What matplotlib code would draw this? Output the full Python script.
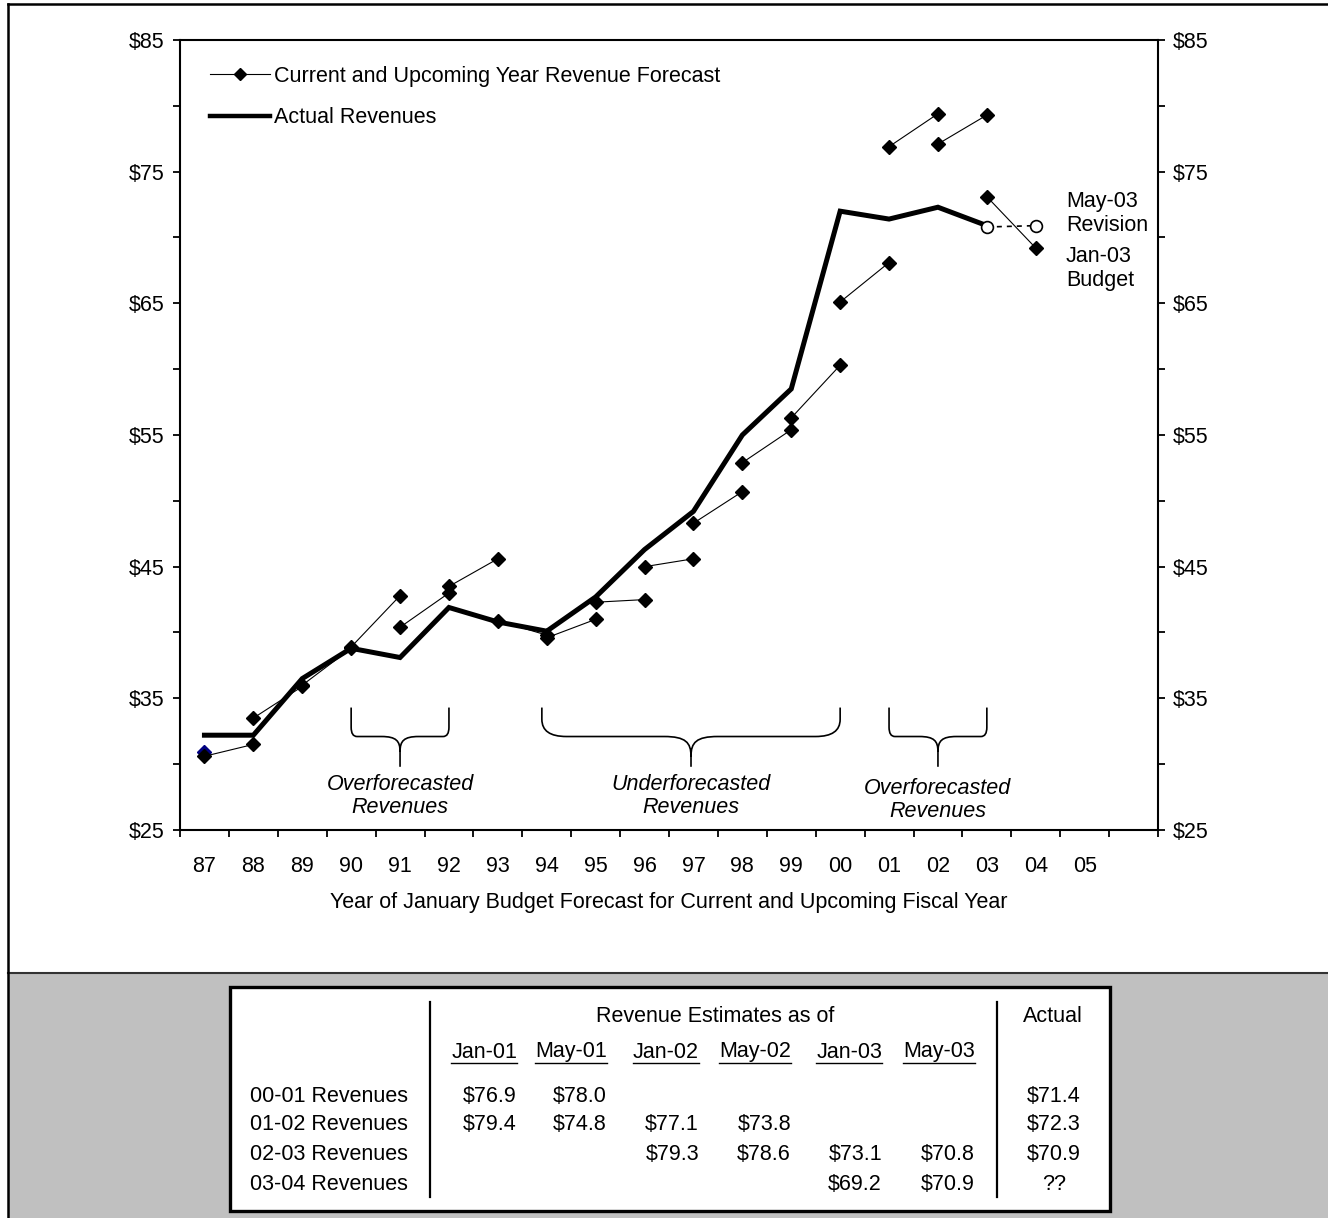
import matplotlib

matplotlib.use("Agg")
import matplotlib.pyplot as plt
import numpy as np
from matplotlib.lines import Line2D
from matplotlib.patches import PathPatch, Rectangle
from matplotlib.path import Path

plt.rcParams["font.family"] = ["Liberation Sans", "DejaVu Sans"]
plt.rcParams["font.size"] = 15.5

# --- data --------------------------------------------------------------
years = ["87", "88", "89", "90", "91", "92", "93", "94", "95", "96",
         "97", "98", "99", "00", "01", "02", "03", "04", "05"]

# actual revenues, plotted at the January budget year (87 .. 03)
actual = [32.2, 32.2, 36.5, 38.8, 38.1, 41.9, 40.8, 40.1, 42.7, 46.3,
          49.2, 55.0, 58.5, 72.0, 71.4, 72.3, 70.9]

# January forecasts: current year (at year Y) and upcoming year (at Y+1)
forecast_current = [30.6, 33.5, 36.0, 38.9, 40.4, 43.5, 40.9, 39.6, 42.3,
                    45.0, 48.3, 52.9, 56.3, 65.1, 76.9, 77.1, 73.1]
forecast_upcoming = [31.5, 35.9, 38.8, 42.8, 43.0, 45.6, 39.8, 41.0, 42.5,
                     45.6, 50.7, 55.4, 60.3, 68.1, 79.4, 79.3, 69.2]

# May-03 revision for 02-03 and 03-04
revision_years = ["03", "04"]
revision_values = [70.8, 70.9]

# stray blue point under the first forecast marker
stray_year = "87"
stray_value = 30.9

# brace groups: (first year, last year, label)
brace_groups = [
    ("90", "92", "Overforecasted\nRevenues"),
    ("94", "00", "Underforecasted\nRevenues"),
    ("01", "03", "Overforecasted\nRevenues"),
]

y_ticks = [25, 35, 45, 55, 65, 75, 85]

table_header = "Revenue Estimates as of"
table_cols = ["Jan-01", "May-01", "Jan-02", "May-02", "Jan-03", "May-03"]
table_rows = ["00-01 Revenues", "01-02 Revenues", "02-03 Revenues", "03-04 Revenues"]
table_values = [
    ["$76.9", "$78.0", "", "", "", ""],
    ["$79.4", "$74.8", "$77.1", "$73.8", "", ""],
    ["", "", "$79.3", "$78.6", "$73.1", "$70.8"],
    ["", "", "", "", "$69.2", "$70.9"],
]
table_actual = ["$71.4", "$72.3", "$70.9", "??"]

# --- figure --------------------------------------------------------------
W, H = 1328, 1218
fig = plt.figure(figsize=(W / 100, H / 100), dpi=100)


def fpos(px, py):
    return px / W, 1 - py / H


ax = fig.add_axes([180 / W, 1 - 830 / H, (1158 - 180) / W, (830 - 40) / H])
xpos = {y: i for i, y in enumerate(years)}

ax.plot(range(len(actual)), actual, color="black", linewidth=3.6,
        solid_joinstyle="miter", zorder=2)

ax.plot([xpos[stray_year]], [stray_value], linestyle="none", marker="D",
        markersize=7, color="#000080", zorder=3)

for i, (cur, up) in enumerate(zip(forecast_current, forecast_upcoming)):
    ax.plot([i, i + 1], [cur, up], color="black", linewidth=0.8,
            marker="D", markersize=7, zorder=4)

rx = [xpos[y] for y in revision_years]
ax.plot(rx, revision_values, color="black", linewidth=1.2,
        linestyle=(0, (3, 3)), zorder=4)
ax.plot(rx, revision_values, linestyle="none", marker="o", markersize=8.5,
        markerfacecolor="white", markeredgecolor="black",
        markeredgewidth=1.2, zorder=5)

ax.text(17.62, 71.85, "May-03\nRevision", ha="left", va="center", linespacing=1.2)
ax.text(17.62, 67.65, "Jan-03\nBudget", ha="left", va="center", linespacing=1.2)


def draw_brace(x0, x1, rx, ry, cw, depth):
    y_top, y_mid, y_tip = 34.3, 32.1, 29.8
    xc = (x0 + x1) / 2
    y_cusp = y_mid - depth
    verts, codes = [], []
    for xe, sgn in ((x0, 1), (x1, -1)):
        verts += [(xe, y_top), (xe, y_mid + ry), (xe, y_mid), (xe + sgn * rx, y_mid),
                  (xc - sgn * cw, y_mid), (xc - sgn * cw * 0.2, y_mid),
                  (xc, y_mid - depth * 0.3), (xc, y_cusp)]
        codes += [Path.MOVETO, Path.LINETO, Path.CURVE3, Path.CURVE3,
                  Path.LINETO, Path.CURVE4, Path.CURVE4, Path.CURVE4]
    verts += [(xc, y_cusp), (xc, y_tip)]
    codes += [Path.MOVETO, Path.LINETO]
    ax.add_patch(PathPatch(Path(verts, codes), facecolor="none",
                           edgecolor="black", linewidth=1.2, zorder=3))


brace_shapes = [(0.12, 0.7, 0.38, 1.15), (0.5, 1.3, 0.55, 1.5), (0.12, 0.7, 0.38, 1.15)]
brace_label_y = [27.6, 27.6, 27.3]
for (a, b, label), shape, ly in zip(brace_groups, brace_shapes, brace_label_y):
    x0, x1 = xpos[a], xpos[b]
    if b == "00":
        x0 -= 0.1
    draw_brace(x0, x1, *shape)
    ax.text((x0 + x1) / 2, ly, label, ha="center", va="center",
            style="italic", linespacing=1.15)

ax.set_xlim(-0.5, 19.5)
ax.set_ylim(25, 85)
ax.set_xticks(range(len(years)))
ax.set_xticklabels(years)
ax.set_xticks(np.arange(-0.5, 20, 1), minor=True)
ax.tick_params(axis="x", which="major", length=0, pad=19)
ax.tick_params(axis="x", which="minor", length=5, width=1.3, direction="out")
ax.set_yticks(y_ticks)
ax.set_yticklabels([f"${v}" for v in y_ticks])
ax.set_yticks([30, 40, 50, 60, 70, 80], minor=True)
ax.tick_params(axis="y", which="both", left=True, right=True, labelleft=True,
               labelright=True, direction="out", length=5, width=1.3, pad=6)
for s in ax.spines.values():
    s.set_linewidth(1.5)

ax.set_xlabel("Year of January Budget Forecast for Current and Upcoming Fiscal Year")
ax.xaxis.set_label_coords(0.5, -(908 - 830) / 790)
ax.xaxis.label.set_va("baseline")

handles = [
    Line2D([], [], color="black", linewidth=0.8, marker="D", markersize=6),
    Line2D([], [], color="black", linewidth=3.2),
]
ax.legend(handles, ["Current and Upcoming Year Revenue Forecast", "Actual Revenues"],
          loc="upper left", bbox_to_anchor=(30 / 978, 1 - 26 / 790), frameon=False,
          borderpad=0, borderaxespad=0, handlelength=2.8, handletextpad=0.15,
          labelspacing=0.95)

# --- frame, grey panel and the table below -------------------------------
fig.patches.append(Rectangle(fpos(8, 1218), 1 - 8 / W, (1218 - 973) / H,
                             transform=fig.transFigure, facecolor="#C0C0C0",
                             edgecolor="none", zorder=0))
fig.lines.append(Line2D([8 / W, 1], [1 - 973 / H] * 2, transform=fig.transFigure,
                        color="#333333", linewidth=1.5))
fig.lines.append(Line2D([8 / W, 8 / W], [0, 1 - 4 / H], transform=fig.transFigure,
                        color="black", linewidth=1.8))
fig.lines.append(Line2D([8 / W, 1], [1 - 4 / H] * 2, transform=fig.transFigure,
                        color="black", linewidth=1.8))
fig.patches.append(Rectangle(fpos(230, 1211), (1110 - 230) / W, (1211 - 987) / H,
                             transform=fig.transFigure, facecolor="white",
                             edgecolor="black", linewidth=2.4, zorder=1))
for vx in (430, 997):
    fig.lines.append(Line2D([vx / W] * 2, [1 - 1002 / H, 1 - 1197 / H],
                            transform=fig.transFigure, color="black", linewidth=1.6))

fig.text(*fpos(715, 1022.5), table_header, ha="center", va="baseline")
fig.text(*fpos(1053, 1022.5), "Actual", ha="center", va="baseline")

col_right = [517, 607, 699, 791, 882, 975]
row_base = [1101.5, 1130.5, 1159.5, 1189.5]
renderer = fig.canvas.get_renderer()
for cx, name in zip(col_right, table_cols):
    t = fig.text(*fpos(cx, 1057.5), name, ha="right", va="baseline")
    bb = t.get_window_extent(renderer=renderer)
    fig.lines.append(Line2D([bb.x0 / W, bb.x1 / W], [1 - 1063 / H] * 2,
                            transform=fig.transFigure, color="black", linewidth=1.0))

for ry, name, vals, act in zip(row_base, table_rows, table_values, table_actual):
    fig.text(*fpos(250, ry), name, ha="left", va="baseline")
    for cx, v in zip(col_right, vals):
        if v:
            fig.text(*fpos(cx, ry), v, ha="right", va="baseline")
    fig.text(*fpos(1054, ry), act, ha="center", va="baseline")

fig.savefig("out.png", dpi=100)
